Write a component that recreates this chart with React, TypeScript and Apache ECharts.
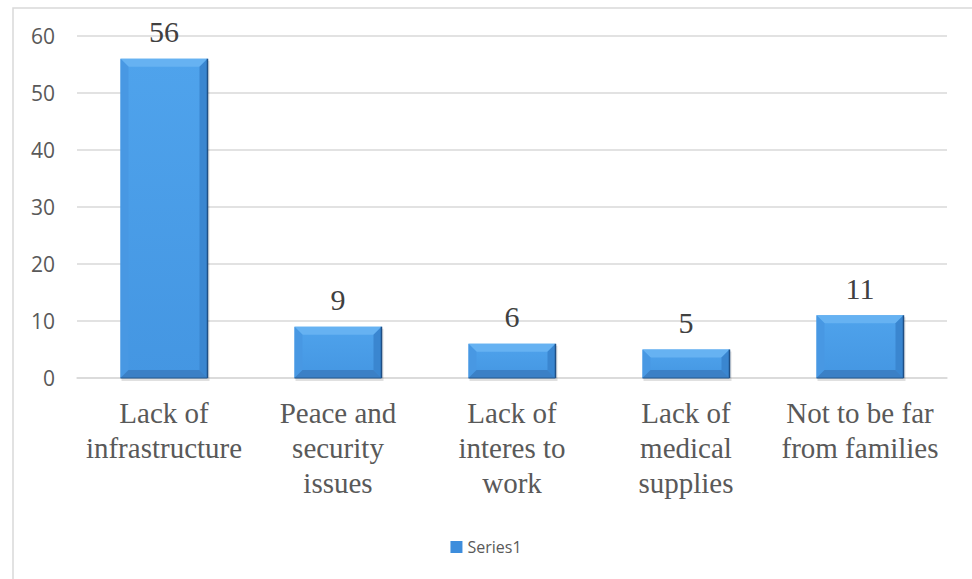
import React, { useEffect, useRef } from "react";
import * as echarts from "echarts";

const categories = [
  "Lack of\ninfrastructure",
  "Peace and\nsecurity\nissues",
  "Lack of\ninteres to\nwork",
  "Lack of\nmedical\nsupplies",
  "Not to be far\nfrom families",
];
const values = [56, 9, 6, 5, 11];
const seriesName = "Series1";

const SERIF = "Liberation Serif";
const SANS = "Open Sans";

export default function App() {
  const ref = useRef<HTMLDivElement>(null);
  useEffect(() => {
    if (!ref.current) return;
    const chart = echarts.init(ref.current, undefined, { renderer: "svg" });
    const renderItem = (params: any, api: any) => {
      const idx = api.value(0);
      const val = api.value(1);
      const top = api.coord([idx, val]);
      const base = api.coord([idx, 0]);
      const bw = api.size([1, 0])[0] * 0.5;
      const x0 = top[0] - bw / 2;
      const x1 = top[0] + bw / 2;
      const y0 = top[1];
      const y1 = base[1];
      const h = y1 - y0;
      const b = Math.min(8, h / 3);
      return {
        type: "group",
        children: [
          {
            type: "rect",
            shape: { x: x0 + 1, y: y0 + 2, width: bw + 1, height: h + 1 },
            style: { fill: "rgba(0,0,0,0.12)" },
          },
          {
            type: "rect",
            shape: { x: x0, y: y0, width: bw, height: h },
            style: {
              fill: new echarts.graphic.LinearGradient(0, 0, 0, 1, [
                { offset: 0, color: "#4fa3ec" },
                { offset: 1, color: "#4496e2" },
              ]),
            },
          },
          {
            type: "polygon",
            shape: { points: [[x0, y0], [x1, y0], [x1 - b, y0 + b], [x0 + b, y0 + b]] },
            style: { fill: "#66b2f2" },
          },
          {
            type: "polygon",
            shape: { points: [[x0, y0], [x0 + b, y0 + b], [x0 + b, y1 - b], [x0, y1]] },
            style: { fill: "#4898e3" },
          },
          {
            type: "polygon",
            shape: { points: [[x1, y0], [x1 - b, y0 + b], [x1 - b, y1 - b], [x1, y1]] },
            style: { fill: "#3a86d0" },
          },
          {
            type: "polygon",
            shape: { points: [[x0, y1], [x0 + b, y1 - b], [x1 - b, y1 - b], [x1, y1]] },
            style: { fill: "#3b80c6" },
          },
          {
            type: "line",
            shape: { x1: x1, y1: y0, x2: x1, y2: y1 },
            style: { stroke: "#1f4f85", lineWidth: 1.5 },
          },
          {
            type: "line",
            shape: { x1: x0, y1: y1, x2: x1, y2: y1 },
            style: { stroke: "#255a92", lineWidth: 1 },
          },
        ],
      };
    };
    chart.setOption({
      animation: false,
      backgroundColor: "#ffffff",
      textStyle: { fontFamily: SERIF },
      graphic: [
        {
          type: "rect",
          shape: { x: 13, y: 8, width: 1000, height: 700 },
          style: { fill: "none", stroke: "#d9d9d9", lineWidth: 1.5 },
          silent: true,
          z: -10,
        },
      ],
      grid: { left: 77, right: 25, top: 36, bottom: 201 },
      legend: {
        data: [seriesName],
        bottom: 19,
        left: "center",
        itemWidth: 12,
        itemHeight: 12,
        itemGap: 5,
        icon: "rect",
        textStyle: { fontFamily: SANS, fontSize: 16, color: "#595959" },
      },
      xAxis: {
        type: "category",
        data: categories,
        axisLine: { show: true, lineStyle: { color: "#d9d9d9", width: 1.5 } },
        axisTick: { show: false },
        axisLabel: {
          interval: 0,
          fontFamily: SERIF,
          fontSize: 29,
          lineHeight: 35,
          color: "#595959",
          margin: 17,
        },
      },
      yAxis: {
        type: "value",
        min: 0,
        max: 60,
        interval: 10,
        axisLine: { show: false },
        axisTick: { show: false },
        splitLine: { lineStyle: { color: "#d9d9d9", width: 1.5 } },
        axisLabel: {
          fontFamily: SANS,
          fontSize: 21,
          color: "#595959",
          margin: 22,
        },
      },
      series: [
        {
          name: seriesName,
          type: "custom",
          renderItem,
          itemStyle: { color: "#3d8ddc" },
          data: values.map((v, i) => [i, v]),
          encode: { x: 0, y: 1 },
          z: 2,
        },
        {
          name: "labels",
          type: "bar",
          barWidth: "50%",
          data: values,
          itemStyle: { color: "rgba(0,0,0,0)" },
          silent: true,
          z: 3,
          label: {
            show: true,
            position: "top",
            distance: 12,
            fontFamily: SERIF,
            fontSize: 30,
            color: "#404040",
          },
        },
      ],
    });
    return () => chart.dispose();
  }, []);
  return (
    <div
      ref={ref}
      style={{ position: "fixed", left: 0, top: 0, width: 972, height: 579 }}
    />
  );
}
